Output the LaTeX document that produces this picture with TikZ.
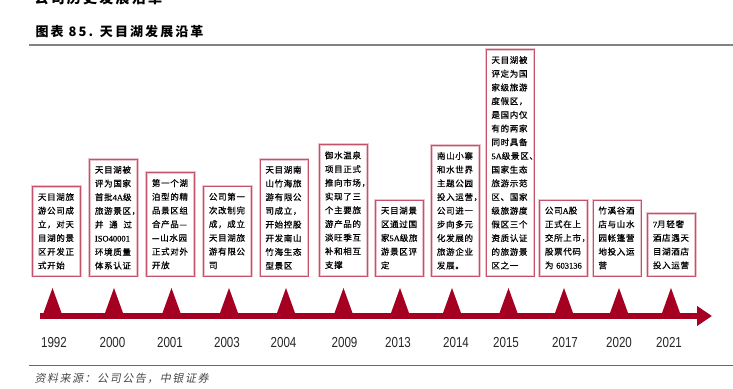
\documentclass[tikz,border=0pt]{standalone}
\usepackage{fontspec}
\usepackage{xcolor}
\usepackage{tikz}
\usetikzlibrary{arrows.meta}
\setmainfont{Noto Sans CJK SC}
\newfontfamily\cjk[LetterSpace=8,FakeBold=0.6]{Noto Sans CJK SC}
\newfontfamily\cjktitle[LetterSpace=16]{Noto Sans CJK SC}
\newfontfamily\cjksrc[LetterSpace=14,FakeSlant=0.2]{Noto Sans CJK SC}
\newfontfamily\yearfont[FakeStretch=0.8]{Liberation Sans}
\newfontfamily\latinfont[FakeBold=0.6]{Liberation Serif}
\definecolor{tlred}{RGB}{165,0,33}
\definecolor{boxred}{RGB}{196,82,104}
\definecolor{boxpink}{RGB}{238,196,204}
\definecolor{rulegray}{RGB}{130,130,130}
\definecolor{srcgray}{RGB}{70,70,70}
\newcommand{\spreadline}[1]{\makebox[37pt][s]{#1}}
\newcommand{\latn}[1]{{\latinfont #1}}

\begin{document}
\begin{tikzpicture}[x=1pt, y=-1pt]
    \tikzstyle{event} = [rectangle, draw=boxred, line width=0.9pt, preaction={draw=boxpink, line width=2.6pt}, minimum width=48pt, inner xsep=0pt, inner ysep=0pt, text width=37pt, align=left, anchor=north west, font=\cjk\fontsize{8.5}{13.7}\selectfont]
    \tikzstyle{year} = [font=\yearfont\fontsize{14.5}{14.5}\selectfont, text=black!85]
    \tikzstyle{timeline} = [draw=tlred, line width=6.5pt, -{Triangle[length=15pt, width=19pt]}]

    \useasboundingbox (0,0) rectangle (733,388);

    \node [anchor=base west, font=\cjktitle\bfseries\fontsize{14}{14}\selectfont] (toptitle) at (31,3) {公司历史发展沿革};
    \node [anchor=west, font=\cjktitle\bfseries\fontsize{13}{13}\selectfont] (title) at (32,32) {图表 85. 天目湖发展沿革};
    \draw [rulegray, line width=2pt] (29,45) -- (733,45);

    \node [event, minimum height=89.5pt] (e1992) at (32,186) {天目湖旅\\游公司成\\立，对天\\目湖的景\\区开发正\\式开始};
    \node [event, minimum height=116.5pt] (e2000) at (89,159) {天目湖被\\评为国家\\首批\latn{4A}级\\旅游景区，\\\spreadline{并\hfill 通\hfill 过}\\\latn{ISO40001}\\环境质量\\体系认证};
    \node [event, minimum height=103.5pt] (e2001) at (146,172) {第一个湖\\泊型的精\\品景区组\\合产品—\\—山水园\\正式对外\\开放};
    \node [event, minimum height=90pt] (e2003) at (203,185.5) {公司第一\\次改制完\\成，成立\\天目湖旅\\游有限公\\司};
    \node [event, minimum height=116.5pt] (e2004) at (259.5,159) {天目湖南\\山竹海旅\\游有限公\\司成立，\\开始控股\\开发南山\\竹海生态\\型景区};
    \node [event, minimum height=131.5pt] (e2009) at (319,144) {御水温泉\\项目正式\\推向市场，\\实现了三\\个主要旅\\游产品的\\淡旺季互\\补和相互\\支撑};
    \node [event, minimum height=76pt] (e2013) at (375,199.5) {天目湖景\\区通过国\\家\latn{5A}级旅\\游景区评\\定};
    \node [event, minimum height=130.5pt] (e2014) at (431,145) {南山小寨\\和水世界\\主题公园\\投入运营，\\公司进一\\步向多元\\化发展的\\旅游企业\\发展。};
    \node [event, minimum height=226.5pt] (e2015) at (485.5,49) {天目湖被\\评定为国\\家级旅游\\度假区，\\是国内仅\\有的两家\\同时具备\\\latn{5A}级景区、\\国家生态\\旅游示范\\区、国家\\级旅游度\\假区三个\\资质认证\\的旅游景\\区之一};
    \node [event, minimum height=76pt] (e2017) at (539,199.5) {公司\latn{A}股\\正式在上\\交所上市，\\股票代码\\为~\latn{603136}};
    \node [event, minimum height=76pt] (e2020) at (592.5,199.5) {竹溪谷酒\\店与山水\\园帐篷营\\地投入运\\营};
    \node [event, minimum height=62.5pt] (e2021) at (647,213) {\latn{7}月轻奢\\酒店遇天\\目湖酒店\\投入运营};

    \coordinate (tlstart) at (40,316);
    \coordinate (tlend) at (712,316);
    \draw [timeline] (tlstart) -- (tlend);
    \foreach \x in {52.5,114,171.5,229,286,343.5,400,452,508.5,564,619,671}
        \fill [tlred] ({\x-9},313) -- (\x,288) -- ({\x+9},313) -- cycle;

    \foreach \yr/\x in {1992/54,2000/112.5,2001/170,2003/227,2004/283.5,2009/344.5,2013/398,2014/456,2015/506,2017/565,2020/619,2021/669}
        \node [year] (y\yr) at (\x,343) {\yr};

    \draw [rulegray!80!black, line width=1pt] (29,365) -- (733,365);
    \node [anchor=west, font=\cjksrc\fontsize{11}{11}\selectfont, text=srcgray] (src) at (31,378) {资料来源：公司公告，中银证券};
\end{tikzpicture}
\end{document}
